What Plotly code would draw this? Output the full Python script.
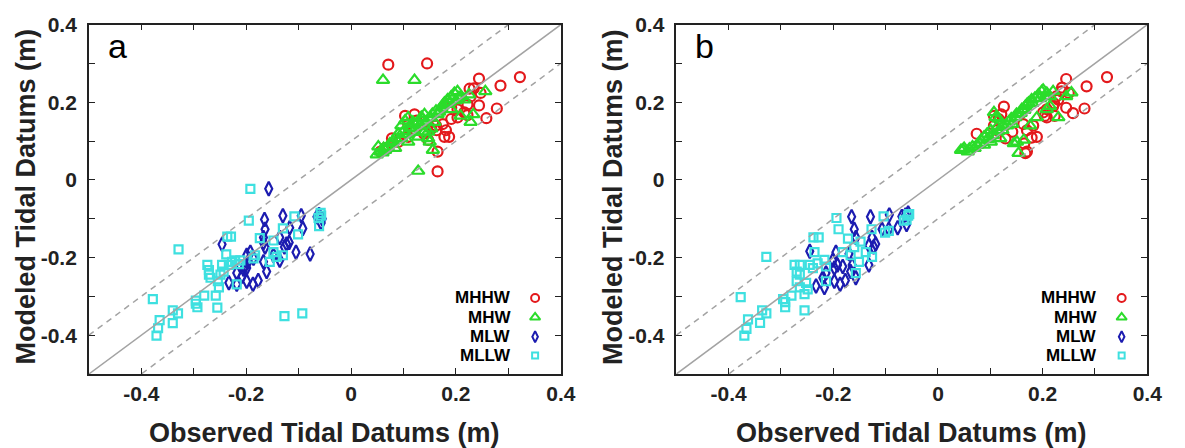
import plotly.graph_objects as go

# ---------------- data (observed x, modeled y) ----------------
# Panel a
a_mhhw_obs = [0.071, 0.145, 0.244, 0.322, 0.285, 0.234, 0.226, 0.247, 0.228, 0.244, 0.278, 0.258, 0.222, 0.216,
              0.203, 0.191, 0.175, 0.181, 0.178, 0.187, 0.165, 0.165, 0.103, 0.121, 0.125, 0.109, 0.140, 0.153,
              0.162, 0.147, 0.078, 0.090, 0.109, 0.056, 0.065, 0.191, 0.203, 0.222, 0.163, 0.139]
a_mhhw_mod = [0.297, 0.300, 0.261, 0.265, 0.243, 0.236, 0.235, 0.224, 0.215, 0.192, 0.184, 0.159, 0.194, 0.174,
              0.161, 0.157, 0.144, 0.128, 0.111, 0.111, 0.073, 0.022, 0.165, 0.169, 0.153, 0.144, 0.124, 0.132,
              0.140, 0.103, 0.107, 0.098, 0.111, 0.073, 0.082, 0.186, 0.182, 0.167, 0.128, 0.119]

a_mhw_obs = [0.061, 0.121, 0.256, 0.203, 0.233, 0.228, 0.150, 0.147, 0.156, 0.128, 0.052, 0.056, 0.049, 0.062,
             0.074, 0.084, 0.090, 0.096, 0.103, 0.109, 0.115, 0.121, 0.128, 0.137, 0.140, 0.147, 0.153, 0.159,
             0.165, 0.172, 0.178, 0.184, 0.191, 0.197, 0.209, 0.216, 0.225, 0.191, 0.209, 0.096, 0.109, 0.128,
             0.140, 0.065, 0.084, 0.100, 0.112, 0.118, 0.131, 0.134, 0.143, 0.150, 0.155, 0.162, 0.168, 0.175,
             0.182, 0.188, 0.070, 0.078, 0.060, 0.080, 0.105, 0.118, 0.200, 0.205]
a_mhw_mod = [0.257, 0.257, 0.228, 0.228, 0.169, 0.149, 0.098, 0.107, 0.077, 0.023, 0.086, 0.073, 0.065, 0.082,
             0.094, 0.107, 0.119, 0.140, 0.153, 0.161, 0.132, 0.144, 0.149, 0.157, 0.169, 0.124, 0.132, 0.149,
             0.169, 0.186, 0.199, 0.207, 0.215, 0.224, 0.215, 0.207, 0.220, 0.182, 0.165, 0.107, 0.098, 0.111,
             0.124, 0.077, 0.082, 0.125, 0.135, 0.150, 0.140, 0.162, 0.150, 0.160, 0.170, 0.178, 0.175, 0.192,
             0.195, 0.200, 0.085, 0.095, 0.070, 0.100, 0.118, 0.123, 0.205, 0.212]

a_mlw_obs = [-0.157, -0.246, -0.165, -0.130, -0.095, -0.092, -0.164, -0.167, -0.164, -0.123, -0.118, -0.127,
             -0.136, -0.117, -0.105, -0.078, -0.136, -0.148, -0.199, -0.192, -0.202, -0.199, -0.167, -0.161,
             -0.233, -0.218, -0.199, -0.187, -0.177, -0.218, -0.208, -0.186, -0.061, -0.057, -0.167, -0.196,
             -0.205, -0.065, -0.055]
a_mlw_mod = [-0.023, -0.166, -0.102, -0.092, -0.092, -0.125, -0.127, -0.148, -0.173, -0.165, -0.161, -0.173,
             -0.148, -0.123, -0.186, -0.191, -0.207, -0.194, -0.194, -0.186, -0.219, -0.227, -0.211, -0.236,
             -0.265, -0.269, -0.261, -0.269, -0.259, -0.240, -0.248, -0.202, -0.089, -0.111, -0.162, -0.210,
             -0.230, -0.095, -0.100]

a_mllw_obs = [-0.192, -0.195, -0.329, -0.236, -0.229, -0.238, -0.174, -0.148, -0.130, -0.108, -0.101, -0.057,
              -0.061, -0.274, -0.271, -0.271, -0.268, -0.246, -0.243, -0.249, -0.233, -0.227, -0.221, -0.211,
              -0.214, -0.186, -0.183, -0.148, -0.142, -0.155, -0.130, -0.254, -0.252, -0.258, -0.280, -0.296,
              -0.296, -0.293, -0.255, -0.378, -0.340, -0.330, -0.365, -0.340, -0.368, -0.371, -0.127, -0.093,
              -0.218, -0.058, -0.062]
a_mllw_mod = [-0.023, -0.105, -0.179, -0.146, -0.146, -0.192, -0.150, -0.156, -0.125, -0.094, -0.140, -0.092,
              -0.119, -0.219, -0.232, -0.244, -0.252, -0.219, -0.236, -0.244, -0.219, -0.211, -0.207, -0.207,
              -0.217, -0.202, -0.194, -0.186, -0.198, -0.211, -0.194, -0.261, -0.277, -0.298, -0.298, -0.311,
              -0.319, -0.328, -0.329, -0.307, -0.336, -0.344, -0.361, -0.369, -0.382, -0.401, -0.351, -0.344,
              -0.269, -0.085, -0.098]

# Panel b
b_mhhw_obs = [0.323, 0.284, 0.245, 0.237, 0.250, 0.280, 0.258, 0.245, 0.222, 0.230, 0.223, 0.204, 0.189, 0.179,
              0.165, 0.167, 0.126, 0.121, 0.116, 0.074, 0.182, 0.142, 0.107, 0.208, 0.220, 0.226, 0.236, 0.201,
              0.208, 0.170, 0.163, 0.113, 0.107, 0.129, 0.170]
b_mhhw_mod = [0.265, 0.241, 0.260, 0.238, 0.224, 0.184, 0.172, 0.186, 0.197, 0.207, 0.165, 0.165, 0.111, 0.109,
              0.094, 0.069, 0.189, 0.169, 0.157, 0.119, 0.140, 0.124, 0.165, 0.182, 0.190, 0.215, 0.228, 0.174,
              0.161, 0.128, 0.144, 0.128, 0.140, 0.107, 0.073]

b_mhw_obs = [0.050, 0.057, 0.044, 0.066, 0.075, 0.082, 0.088, 0.094, 0.107, 0.110, 0.116, 0.101, 0.113, 0.123,
             0.132, 0.142, 0.148, 0.154, 0.160, 0.167, 0.173, 0.179, 0.185, 0.192, 0.198, 0.201, 0.208, 0.214,
             0.220, 0.255, 0.245, 0.230, 0.151, 0.154, 0.145, 0.164, 0.176, 0.189, 0.208, 0.214, 0.088, 0.101,
             0.119, 0.060, 0.070, 0.080, 0.095, 0.105, 0.115, 0.125, 0.135, 0.140, 0.150, 0.158, 0.165, 0.170,
             0.180, 0.195, 0.205, 0.048]
b_mhw_mod = [0.082, 0.073, 0.077, 0.086, 0.090, 0.103, 0.111, 0.119, 0.174, 0.161, 0.157, 0.128, 0.136, 0.128,
             0.140, 0.144, 0.161, 0.169, 0.182, 0.190, 0.199, 0.207, 0.211, 0.220, 0.228, 0.232, 0.224, 0.215,
             0.228, 0.225, 0.215, 0.161, 0.098, 0.069, 0.094, 0.103, 0.140, 0.161, 0.182, 0.190, 0.090, 0.098,
             0.107, 0.080, 0.082, 0.095, 0.105, 0.115, 0.125, 0.140, 0.150, 0.158, 0.170, 0.172, 0.180, 0.195,
             0.198, 0.210, 0.215, 0.078]

b_mlw_obs = [-0.165, -0.129, -0.093, -0.077, -0.245, -0.160, -0.157, -0.126, -0.119, -0.132, -0.123, -0.195,
             -0.201, -0.192, -0.198, -0.170, -0.164, -0.182, -0.167, -0.177, -0.233, -0.217, -0.198, -0.187,
             -0.157, -0.132, -0.214, -0.220, -0.107, -0.094, -0.069, -0.060, -0.057, -0.062]
b_mlw_mod = [-0.095, -0.095, -0.090, -0.123, -0.184, -0.127, -0.148, -0.148, -0.165, -0.169, -0.173, -0.186,
             -0.207, -0.219, -0.227, -0.190, -0.219, -0.223, -0.236, -0.259, -0.273, -0.277, -0.261, -0.269,
             -0.252, -0.219, -0.240, -0.252, -0.127, -0.127, -0.094, -0.115, -0.085, -0.090]

b_mllw_obs = [-0.194, -0.190, -0.328, -0.238, -0.228, -0.236, -0.172, -0.148, -0.127, -0.104, -0.057, -0.060,
              -0.101, -0.094, -0.274, -0.270, -0.264, -0.264, -0.245, -0.239, -0.230, -0.217, -0.214, -0.270,
              -0.252, -0.249, -0.264, -0.280, -0.255, -0.296, -0.292, -0.292, -0.255, -0.377, -0.336, -0.328,
              -0.340, -0.363, -0.366, -0.370, -0.182, -0.167, -0.160, -0.151, -0.157, -0.126, -0.138, -0.214,
              -0.055, -0.065]
b_mllw_mod = [-0.098, -0.127, -0.198, -0.148, -0.148, -0.186, -0.151, -0.159, -0.127, -0.094, -0.092, -0.102,
              -0.136, -0.131, -0.219, -0.236, -0.244, -0.219, -0.219, -0.227, -0.215, -0.206, -0.223, -0.261,
              -0.265, -0.282, -0.277, -0.298, -0.294, -0.307, -0.315, -0.328, -0.336, -0.302, -0.336, -0.344,
              -0.368, -0.359, -0.384, -0.401, -0.186, -0.194, -0.173, -0.211, -0.240, -0.198, -0.186, -0.261,
              -0.088, -0.105]

series_names = ["MHHW", "MHW", "MLW", "MLLW"]
panel_labels = ["a", "b"]
tick_values = [-0.4, -0.3, -0.2, -0.1, 0.0, 0.1, 0.2, 0.3, 0.4]
tick_labels = ["-0.4", "", "-0.2", "", "0", "", "0.2", "", "0.4"]
axis_range = [-0.5, 0.4]
ref_offsets = [0.0, 0.1, -0.1]
x_title = "Observed Tidal Datums (m)"
y_title = "Modeled Tidal Datums (m)"

# ---------------- styles ----------------
FONT = "Liberation Sans, Arial, sans-serif"
colors = ["#e3191c", "#2bdc2b", "#1c1cb0", "#3ee0e0"]
symbols = ["circle-open", "triangle-up-open", "diamond-tall-open", "square-open"]
sizes = [10, 11, 10, 8]

panels = [
    [(a_mhhw_obs, a_mhhw_mod), (a_mhw_obs, a_mhw_mod), (a_mlw_obs, a_mlw_mod), (a_mllw_obs, a_mllw_mod)],
    [(b_mhhw_obs, b_mhhw_mod), (b_mhw_obs, b_mhw_mod), (b_mlw_obs, b_mlw_mod), (b_mllw_obs, b_mllw_mod)],
]

W, H = 1185, 448
x_domains = [[90 / W, 568 / W], [685 / W, 1162 / W]]
y_domain = [(H - 372) / H, (H - 13) / H]
y_title_x = [26, 621]

fig = go.Figure()

for p, series in enumerate(panels):
    xa = "x" if p == 0 else "x2"
    ya = "y" if p == 0 else "y2"
    for i, (xs, ys) in enumerate(series):
        fig.add_trace(go.Scatter(
            x=xs, y=ys, mode="markers", xaxis=xa, yaxis=ya, showlegend=False,
            marker=dict(symbol=symbols[i], size=sizes[i], color=colors[i],
                        line=dict(color=colors[i], width=2.2)),
        ))
    # reference lines (1:1 and +/-0.1)
    for off in ref_offsets:
        fig.add_trace(go.Scatter(
            x=axis_range, y=[v + off for v in axis_range], mode="lines", xaxis=xa, yaxis=ya,
            showlegend=False, hoverinfo="skip",
            line=dict(color="#a3a3a3", width=1.5, dash="solid" if off == 0 else "6px,5px"),
        ))
    # legend keys (markers at right of text)
    leg_x = 0.351
    leg_y = [-0.304, -0.354, -0.404, -0.452]
    for i, name in enumerate(series_names):
        fig.add_trace(go.Scatter(
            x=[leg_x], y=[leg_y[i]], mode="markers", xaxis=xa, yaxis=ya, showlegend=False,
            hoverinfo="skip",
            marker=dict(symbol=symbols[i], size=sizes[i] - 2, color=colors[i],
                        line=dict(color=colors[i], width=2)),
        ))
        fig.add_annotation(x=0.308, y=leg_y[i], xref=xa, yref=ya, text=f"<b>{name}</b>",
                           showarrow=False, xanchor="right", yanchor="middle",
                           font=dict(family=FONT, size=17, color="black"))
    # panel letter
    fig.add_annotation(x=-0.468, y=0.29, xref=xa, yref=ya, text=panel_labels[p], showarrow=False,
                       xanchor="left", yanchor="bottom", font=dict(family=FONT, size=34, color="black"))
    # axis titles
    cx = (x_domains[p][0] + x_domains[p][1]) / 2
    fig.add_annotation(x=cx, y=(H - 433) / H, xref="paper", yref="paper", text=f"<b>{x_title}</b>",
                       showarrow=False, xanchor="center", yanchor="middle",
                       font=dict(family=FONT, size=27, color="#222"))
    fig.add_annotation(x=y_title_x[p] / W, y=(H - 190) / H, xref="paper", yref="paper",
                       text=f"<b>{y_title}</b>", textangle=-90, showarrow=False,
                       xanchor="center", yanchor="middle",
                       font=dict(family=FONT, size=27, color="#222"))

axis_common = dict(
    range=axis_range, tickmode="array", tickvals=tick_values, ticktext=tick_labels,
    ticks="inside", ticklen=6, tickwidth=1.3, tickcolor="#222",
    showline=True, linecolor="#222", linewidth=1.6, mirror="allticks",
    showgrid=False, zeroline=False,
    tickfont=dict(family=FONT, size=21, color="#222", weight="bold"),
)

fig.update_layout(
    width=W, height=H, margin=dict(l=0, r=0, t=0, b=0),
    paper_bgcolor="white", plot_bgcolor="white",
    xaxis=dict(domain=x_domains[0], anchor="y", **axis_common),
    yaxis=dict(domain=y_domain, anchor="x", ticklabelstandoff=6, **axis_common),
    xaxis2=dict(domain=x_domains[1], anchor="y2", **axis_common),
    yaxis2=dict(domain=y_domain, anchor="x2", ticklabelstandoff=6, **axis_common),
)

fig.write_html("out.html")
